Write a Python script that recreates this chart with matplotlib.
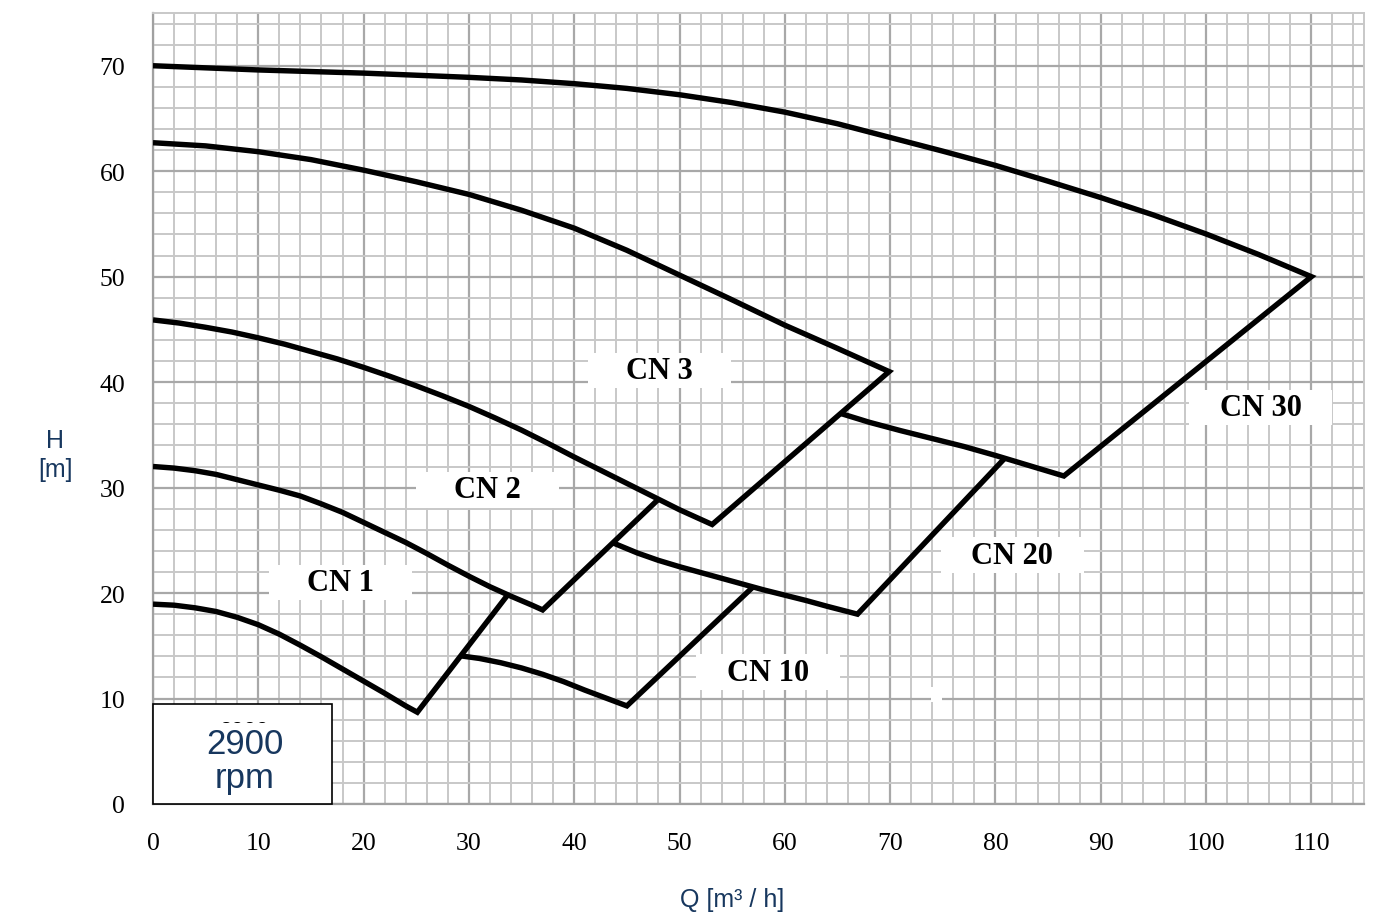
import matplotlib
matplotlib.use("Agg")
import matplotlib.pyplot as plt
from matplotlib.patches import Rectangle
from matplotlib.ticker import MultipleLocator

# ---------------- data (Q [m3/h], H [m]) ----------------
# CN 1 curve and its right boundary line end
cn1_q = [0, 2, 4, 6, 8, 10, 12, 14, 16, 18, 20, 22, 24, 25.1]
cn1_h = [18.95, 18.85, 18.6, 18.25, 17.7, 17.0, 16.1, 15.05, 13.95, 12.8, 11.65, 10.5, 9.3, 8.7]
cn1_end_q = [33.7]
cn1_end_h = [19.85]

# CN 2 lower curve (top of CN 1) and right line end
cn2_q = [0, 2, 4, 6, 8, 10, 12, 14, 16, 18, 20, 22, 24, 26, 28, 30, 32, 34, 36, 37]
cn2_h = [32.0, 31.85, 31.6, 31.25, 30.75, 30.25, 29.75, 29.2, 28.45, 27.65, 26.7,
         25.75, 24.8, 23.75, 22.65, 21.6, 20.6, 19.7, 18.85, 18.4]
cn2_end_q = [48.0]
cn2_end_h = [28.9]

# CN 3 lower curve
cn3_low_q = [0, 2.5, 5, 7.5, 10, 12.5, 15, 17.5, 20, 22.5, 25, 27.5, 30, 32.5, 35,
             37.5, 40, 42.5, 45, 47.5, 50, 53.1]
cn3_low_h = [45.9, 45.6, 45.2, 44.75, 44.2, 43.6, 42.9, 42.2, 41.4, 40.55, 39.65, 38.7,
             37.7, 36.6, 35.45, 34.2, 32.9, 31.65, 30.4, 29.15, 27.9, 26.5]

# CN 3 upper curve
cn3_up_q = [0, 5, 10, 15, 20, 25, 30, 35, 40, 45, 50, 55, 60, 65, 69.9]
cn3_up_h = [62.7, 62.4, 61.85, 61.1, 60.1, 59.0, 57.8, 56.3, 54.6, 52.5, 50.15, 47.8,
            45.4, 43.2, 41.0]

# CN 10 curve and right line end
cn10_q = [29.2, 31, 33, 35, 37, 39, 41, 43, 45]
cn10_h = [14.05, 13.8, 13.4, 12.9, 12.3, 11.6, 10.8, 10.05, 9.3]
cn10_end_q = [57.0]
cn10_end_h = [20.6]

# CN 20 curve and right line end
cn20_q = [43.7, 46, 48, 50, 52, 54, 56, 58, 60, 62, 64, 66.9]
cn20_h = [24.75, 23.8, 23.1, 22.5, 21.95, 21.4, 20.85, 20.3, 19.8, 19.3, 18.75, 18.0]
cn20_end_q = [80.9]
cn20_end_h = [32.8]

# CN 30 lower curve
cn30_low_q = [65.4, 68, 71, 74, 77, 80, 83, 86.5]
cn30_low_h = [37.0, 36.2, 35.4, 34.65, 33.9, 33.05, 32.15, 31.1]

# CN 30 upper curve
cn30_up_q = [0, 5, 10, 15, 20, 25, 30, 35, 40, 45, 50, 55, 60, 65, 70, 75, 80, 85,
             90, 95, 100, 105, 110]
cn30_up_h = [70, 69.8, 69.6, 69.45, 69.3, 69.1, 68.9, 68.65, 68.3, 67.85, 67.25, 66.5,
             65.6, 64.5, 63.2, 61.9, 60.55, 59.05, 57.5, 55.85, 54.05, 52.1, 50]

# labels
label_text = ["CN 1", "CN 2", "CN 3", "CN 10", "CN 20", "CN 30"]
label_q = [17.8, 31.8, 48.1, 58.4, 81.6, 105.2]
label_h = [21.0, 29.8, 41.1, 12.5, 23.6, 37.6]

x_ticks = list(range(0, 111, 10))
y_ticks = list(range(0, 71, 10))

# ---------------- figure ----------------
fig = plt.figure(figsize=(13.73, 9.2), dpi=100)
ax = fig.add_axes([153 / 1373, 1 - 805 / 920, (1364 - 153) / 1373, (805 - 14) / 920])
ax.set_xlim(0, 115)
ax.set_ylim(0, 75)

ax.xaxis.set_major_locator(MultipleLocator(10))
ax.yaxis.set_major_locator(MultipleLocator(10))
ax.xaxis.set_minor_locator(MultipleLocator(2))
ax.yaxis.set_minor_locator(MultipleLocator(2))
ax.grid(which="minor", color="#c8c8c8", linewidth=1.4, zorder=0)
ax.grid(which="major", color="#a8a8a8", linewidth=1.6, zorder=0)
ax.set_axisbelow(True)
ax.set_xticks(x_ticks)
ax.set_yticks(y_ticks)
ax.tick_params(which="both", length=0)
ax.tick_params(axis="x", pad=20)
ax.tick_params(axis="y", pad=20)
for lab in ax.get_xticklabels() + ax.get_yticklabels():
    lab.set_fontfamily("Liberation Serif")
    lab.set_fontsize(18.5)
for side in ["left", "bottom"]:
    ax.spines[side].set_color("#a0a0a0")
    ax.spines[side].set_linewidth(1.6)
for side in ["top", "right"]:
    ax.spines[side].set_color("#c8c8c8")
    ax.spines[side].set_linewidth(1.4)

lw = 3.9
kw = dict(color="black", linewidth=lw, solid_joinstyle="miter", solid_capstyle="butt", zorder=3)

# CN 30 upper + right line + lower curve
ax.plot(cn30_up_q + cn30_low_q[::-1], cn30_up_h + cn30_low_h[::-1], **kw)
# CN 3 upper + right line + lower curve
ax.plot(cn3_up_q + cn3_low_q[::-1], cn3_up_h + cn3_low_h[::-1], **kw)
# CN 2
ax.plot(cn2_q + cn2_end_q, cn2_h + cn2_end_h, **kw)
# CN 1
ax.plot(cn1_q + cn1_end_q, cn1_h + cn1_end_h, **kw)
# CN 10
ax.plot(cn10_q + cn10_end_q, cn10_h + cn10_end_h, **kw)
# CN 20
ax.plot(cn20_q + cn20_end_q, cn20_h + cn20_end_h, **kw)

# labels with white boxes
bw, bh = 13.6, 3.4
for t, q, h in zip(label_text, label_q, label_h):
    ax.add_patch(Rectangle((q - bw / 2, h - bh / 2), bw, bh, facecolor="white",
                           edgecolor="none", zorder=4))
    ax.text(q, h, t, ha="center", va="center", fontsize=22, fontweight="bold",
            family="Liberation Serif", zorder=5)

# small white artifact
ax.add_patch(Rectangle((73.9, 9.7), 1.0, 1.4, facecolor="white", edgecolor="none", zorder=4))

# rpm box
ax.add_patch(Rectangle((0, 0), 17.0, 9.47, facecolor="white", edgecolor="black",
                       linewidth=1.2, zorder=6, clip_on=False))
ax.text(8.7, 7.95, "2900", ha="center", va="top", fontsize=16, color="black",
        family="Liberation Sans", zorder=7)
ax.add_patch(Rectangle((1.5, 0.5), 14.0, 7.2, facecolor="white", edgecolor="none", zorder=8))
ax.text(8.7, 5.75, "2900", ha="center", va="center", fontsize=25, color="#17375e",
        family="Liberation Sans", zorder=9)
ax.text(8.7, 2.5, "rpm", ha="center", va="center", fontsize=25, color="#17375e",
        family="Liberation Sans", zorder=9)

# axis labels
navy = "#17375e"
fig.text(55 / 1373, 1 - 441 / 920, "H", ha="center", va="center", fontsize=18,
         color=navy, family="Liberation Sans")
fig.text(55 / 1373, 1 - 470 / 920, "[m]", ha="center", va="center", fontsize=18,
         color=navy, family="Liberation Sans")
fig.text(732 / 1373, 1 - 900 / 920, "Q [m³ / h]", ha="center", va="center", fontsize=18,
         color=navy, family="Liberation Sans")

fig.savefig("out.png", dpi=100)
